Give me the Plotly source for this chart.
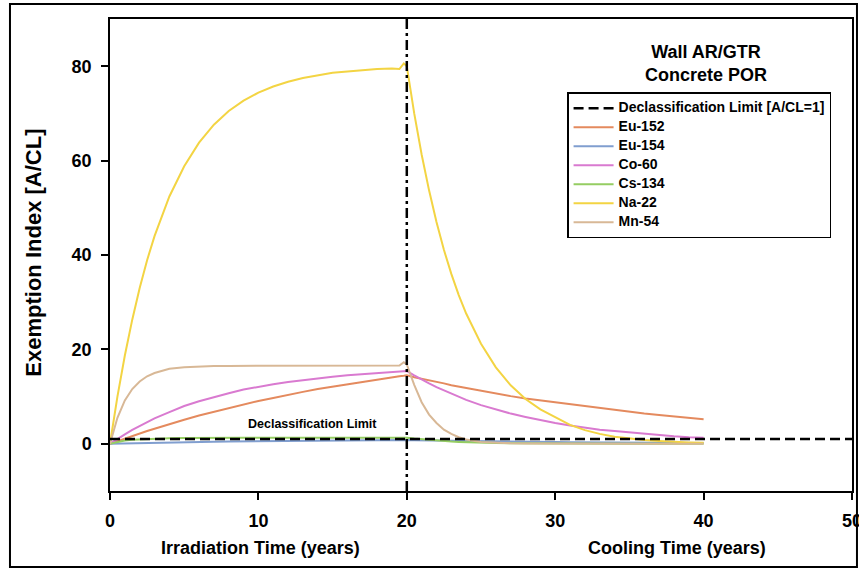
import plotly.graph_objects as go

# Time grids (years): irradiation phase, then cooling phase after shutdown
TIME_IRR = [0, 0.5, 1, 1.5, 2, 2.5, 3, 4, 5, 6, 7, 8, 9, 10, 11, 12, 13, 14,
            15, 16, 17, 18, 19, 19.5, 19.8, 20]
TIME_COOL = [20.5, 21, 21.5, 22, 22.5, 23, 23.5, 24, 25, 26, 27, 28, 29, 30,
             31, 32, 33, 34, 35, 36, 37, 38, 39, 40]

IRRADIATION_END = 20
DECL_X = [0, 50]
DECL_Y = [1, 1]

# Exemption index A/CL per nuclide
EU152_IRR = [0, 0.57, 1.13, 1.67, 2.2, 2.7, 3.2, 4.2, 5.1, 6.0, 6.8, 7.6, 8.4,
             9.07, 9.7, 10.4, 11.0, 11.6, 12.1, 12.7, 13.2, 13.6, 14.1, 14.3, 14.4, 14.5]
EU152_COOL = [14.1, 13.8, 13.4, 13.1, 12.8, 12.4, 12.1, 11.8, 11.2, 10.7, 10.1,
              9.6, 9.2, 8.7, 8.3, 7.9, 7.5, 7.1, 6.7, 6.4, 6.1, 5.8, 5.5, 5.2]

EU154_IRR = [0, 0.04, 0.08, 0.11, 0.15, 0.18, 0.21, 0.28, 0.33, 0.38, 0.43, 0.48,
             0.52, 0.55, 0.59, 0.62, 0.65, 0.68, 0.70, 0.72, 0.75, 0.76, 0.78, 0.79, 0.80, 0.80]
EU154_COOL = [0.77, 0.74, 0.71, 0.68, 0.65, 0.63, 0.60, 0.58, 0.53, 0.49, 0.45,
              0.42, 0.39, 0.36, 0.33, 0.30, 0.28, 0.26, 0.24, 0.22, 0.20, 0.19, 0.17, 0.16]

CO60_IRR = [0, 1.05, 2.0, 2.95, 3.8, 4.6, 5.4, 6.7, 8.0, 9.0, 9.9, 10.7, 11.5,
            12.1, 12.6, 13.1, 13.5, 13.9, 14.2, 14.5, 14.7, 14.9, 15.1, 15.2, 15.3, 15.4]
CO60_COOL = [14.5, 13.6, 12.8, 12.0, 11.3, 10.6, 9.9, 9.3, 8.2, 7.3, 6.4, 5.7,
             5.0, 4.4, 3.9, 3.4, 3.0, 2.7, 2.4, 2.1, 1.8, 1.6, 1.4, 1.3]

CS134_IRR = [0, 0.4, 0.7, 0.85, 0.95, 1.05, 1.1, 1.2, 1.25, 1.3, 1.3, 1.3, 1.3,
             1.3, 1.3, 1.3, 1.3, 1.3, 1.3, 1.3, 1.3, 1.3, 1.3, 1.3, 1.3, 1.3]
CS134_COOL = [1.1, 0.95, 0.8, 0.65, 0.55, 0.47, 0.4, 0.33, 0.24, 0.17, 0.12,
              0.09, 0.06, 0.04, 0.03, 0.02, 0.01, 0.01, 0.01, 0, 0, 0, 0, 0]

NA22_IRR = [0, 10.0, 18.7, 26.3, 33.0, 38.9, 44.0, 52.4, 58.8, 63.8, 67.6, 70.5,
            72.7, 74.4, 75.7, 76.7, 77.5, 78.1, 78.6, 78.9, 79.2, 79.4, 79.5, 79.4, 80.6, 80.0]
NA22_COOL = [70.0, 61.3, 53.7, 47.0, 41.1, 36.0, 31.5, 27.6, 21.2, 16.2, 12.4,
             9.5, 7.3, 5.6, 4.0, 2.9, 2.1, 1.5, 1.1, 0.8, 0.6, 0.4, 0.3, 0.2]

MN54_IRR = [0, 5.5, 9.2, 11.6, 13.2, 14.3, 15.0, 15.9, 16.2, 16.4, 16.5, 16.5,
            16.5, 16.5, 16.5, 16.5, 16.5, 16.5, 16.5, 16.5, 16.5, 16.5, 16.5, 16.6, 17.3, 16.8]
MN54_COOL = [12.5, 8.8, 6.2, 4.4, 3.0, 2.1, 1.4, 0.9, 0.4, 0.2, 0.1, 0.05, 0.03,
             0.02, 0.01, 0, 0, 0, 0, 0, 0, 0, 0, 0]

NUCLIDES = [
    ("Eu-152", EU152_IRR, EU152_COOL, "#E48A5E"),
    ("Eu-154", EU154_IRR, EU154_COOL, "#809ECF"),
    ("Co-60", CO60_IRR, CO60_COOL, "#D97AD0"),
    ("Cs-134", CS134_IRR, CS134_COOL, "#95CD62"),
    ("Na-22", NA22_IRR, NA22_COOL, "#F3D443"),
    ("Mn-54", MN54_IRR, MN54_COOL, "#D8B896"),
]

FONT = "Arial, Liberation Sans, sans-serif"


def legend_text(text):
    # small base legend font keeps rows compact; the visible text is sized inline
    return f'<span style="font-size:14px">{text}</span>'


fig = go.Figure()

for rank, (name, irr, cool, color) in enumerate(NUCLIDES, start=2):
    fig.add_trace(go.Scatter(
        x=TIME_IRR + TIME_COOL, y=irr + cool, mode="lines", name=legend_text(name),
        line=dict(color=color, width=2), legendrank=rank,
    ))

fig.add_trace(go.Scatter(
    x=DECL_X, y=DECL_Y, mode="lines",
    name=legend_text("Declassification Limit [A/CL=1]"),
    line=dict(color="black", width=2.5, dash="10px,5px"), legendrank=1,
))

# end of irradiation marker
fig.add_shape(type="line", xref="x", yref="paper", x0=IRRADIATION_END, x1=IRRADIATION_END,
              y0=0, y1=1, line=dict(color="black", width=2.5, dash="10px,4px,3px,4px"))

# outer frame around the whole figure
fig.add_shape(type="rect", xref="paper", yref="paper", x0=-0.1348, x1=1.0067,
              y0=-0.161, y1=1.0318, line=dict(color="black", width=2), layer="above")


def label(text, x, y, size, xref="paper", yref="paper", angle=0):
    fig.add_annotation(text=text, xref=xref, yref=yref, x=x, y=y, showarrow=False,
                       xanchor="center", yanchor="middle", align="center",
                       textangle=angle,
                       font=dict(family=FONT, size=size, color="black", weight="bold"))


label("Wall AR/GTR<br>Concrete POR", 0.803, 0.905, 18)
label("Declassification Limit", 13.65, 4.3, 12.5, xref="x", yref="y")
label("Irradiation Time (years)", 0.2035, -0.121, 18)
label("Cooling Time (years)", 0.764, -0.121, 18)
label("Exemption Index [A/CL]", -0.1024, 0.505, 22, angle=-90)

fig.update_layout(
    width=859, height=570,
    margin=dict(l=110, r=7, t=19, b=79, autoexpand=False),
    paper_bgcolor="white", plot_bgcolor="white",
    font=dict(family=FONT, color="black"),
    showlegend=True,
    legend=dict(x=0.616, y=0.845, xanchor="left", yanchor="top",
                bgcolor="white", bordercolor="black", borderwidth=1.5,
                font=dict(family=FONT, size=10, color="black", weight="bold"),
                itemwidth=40, tracegroupgap=0),
    xaxis=dict(range=[0, 50], tickvals=[0, 10, 20, 30, 40, 50], automargin=False,
               showgrid=False, zeroline=False, showline=True, linecolor="black",
               linewidth=2, mirror=True, ticks="outside", ticklen=7, tickwidth=1.5,
               tickcolor="black", ticklabelstandoff=5, ticklabeloverflow="allow",
               tickfont=dict(family=FONT, size=18, color="black", weight="bold")),
    yaxis=dict(range=[-10, 90], tickvals=[0, 20, 40, 60, 80], automargin=False,
               showgrid=False, zeroline=False, showline=True, linecolor="black",
               linewidth=1.5, mirror=True, ticks="outside", ticklen=7, tickwidth=1.5,
               tickcolor="black", ticklabelstandoff=6,
               tickfont=dict(family=FONT, size=18, color="black", weight="bold")),
)

fig.write_html("out.html")
